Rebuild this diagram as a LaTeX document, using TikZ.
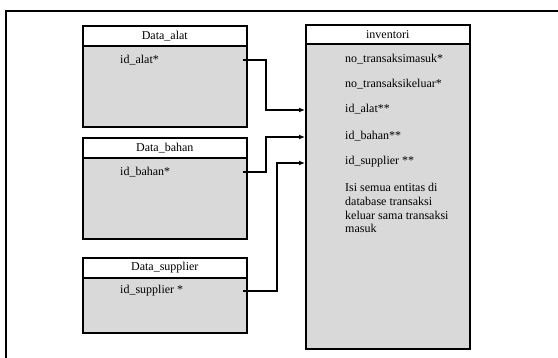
\documentclass[tikz,border=0pt]{standalone}
\usepackage{fontspec}
\setmainfont{Liberation Serif}
\usetikzlibrary{arrows.meta}
\definecolor{boxgray}{HTML}{D9D9D9}
\tikzset{
  hdr/.style={draw=black, line width=1.6pt, fill=white, inner sep=0pt, anchor=north west, minimum width=164pt, minimum height=20pt, font=\fontsize{12}{14}\selectfont},
  body/.style={draw=black, line width=1.6pt, fill=boxgray, inner sep=0pt, anchor=north west, minimum width=164pt},
  field/.style={anchor=west, inner sep=0pt, font=\fontsize{12}{14}\selectfont},
  conn/.style={draw=black, line width=1.5pt},
  link/.style={conn, -{Latex[length=6pt,width=5pt]}}
}
\begin{document}
\begin{tikzpicture}[x=1pt, y=-1pt]
\useasboundingbox (0,0) rectangle (558,358);
% page frame (top and left edges)
\draw[line width=1.8pt] (558,11) -- (6,11) -- (6,358);

% Data_alat table
\node[body, minimum height=81pt] (alatB) at (82,45) {};
\node[hdr] (alatH) at (82,25) {Data\_alat};
\node[field] (alatF) at (120,60) {id\_alat*};

% Data_bahan table
\node[body, minimum height=81pt] (bahanB) at (82,157) {};
\node[hdr] (bahanH) at (82,137) {Data\_bahan};
\node[field] (bahanF) at (120,172) {id\_bahan*};

% Data_supplier table
\node[body, minimum height=55pt] (supB) at (82,277) {};
\node[hdr] (supH) at (82,257) {Data\_supplier};
\node[field] (supF) at (120,291) {id\_supplier *};

% inventori table
\node[body, minimum height=305pt] (invB) at (305,43) {};
\node[hdr, minimum height=19pt] (invH) at (305,24) {inventori};
\node[field] (f1) at (345,59) {no\_transaksimasuk*};
\node[field] (f2) at (345,84) {no\_transaksikeluar*};
\node[field] (f3) at (345,109) {id\_alat**};
\node[field] (f4) at (345,136) {id\_bahan**};
\node[field] (f5) at (345,162) {id\_supplier **};
\node[anchor=north west, inner sep=0pt, align=left, font=\fontsize{12}{13.8}\selectfont] (note) at (345,183)
  {Isi semua entitas di\\database transaksi\\keluar sama transaksi\\masuk};

% connector end points
\coordinate (aOut) at (243,60);
\coordinate (aJ) at (266,60);
\coordinate (aIn) at (305,110);
\coordinate (bOut) at (243,172);
\coordinate (bJ) at (266,172);
\coordinate (bIn) at (305,137);
\coordinate (sOut) at (243,291);
\coordinate (sJ) at (277,291);
\coordinate (sIn) at (305,163);

% foreign-key links
\draw[link] (aOut) -- (aJ) |- (aIn);
\draw[link] (bOut) -- (bJ) |- (bIn);
\draw[link] (sOut) -- (sJ) |- (sIn);
\end{tikzpicture}
\end{document}
